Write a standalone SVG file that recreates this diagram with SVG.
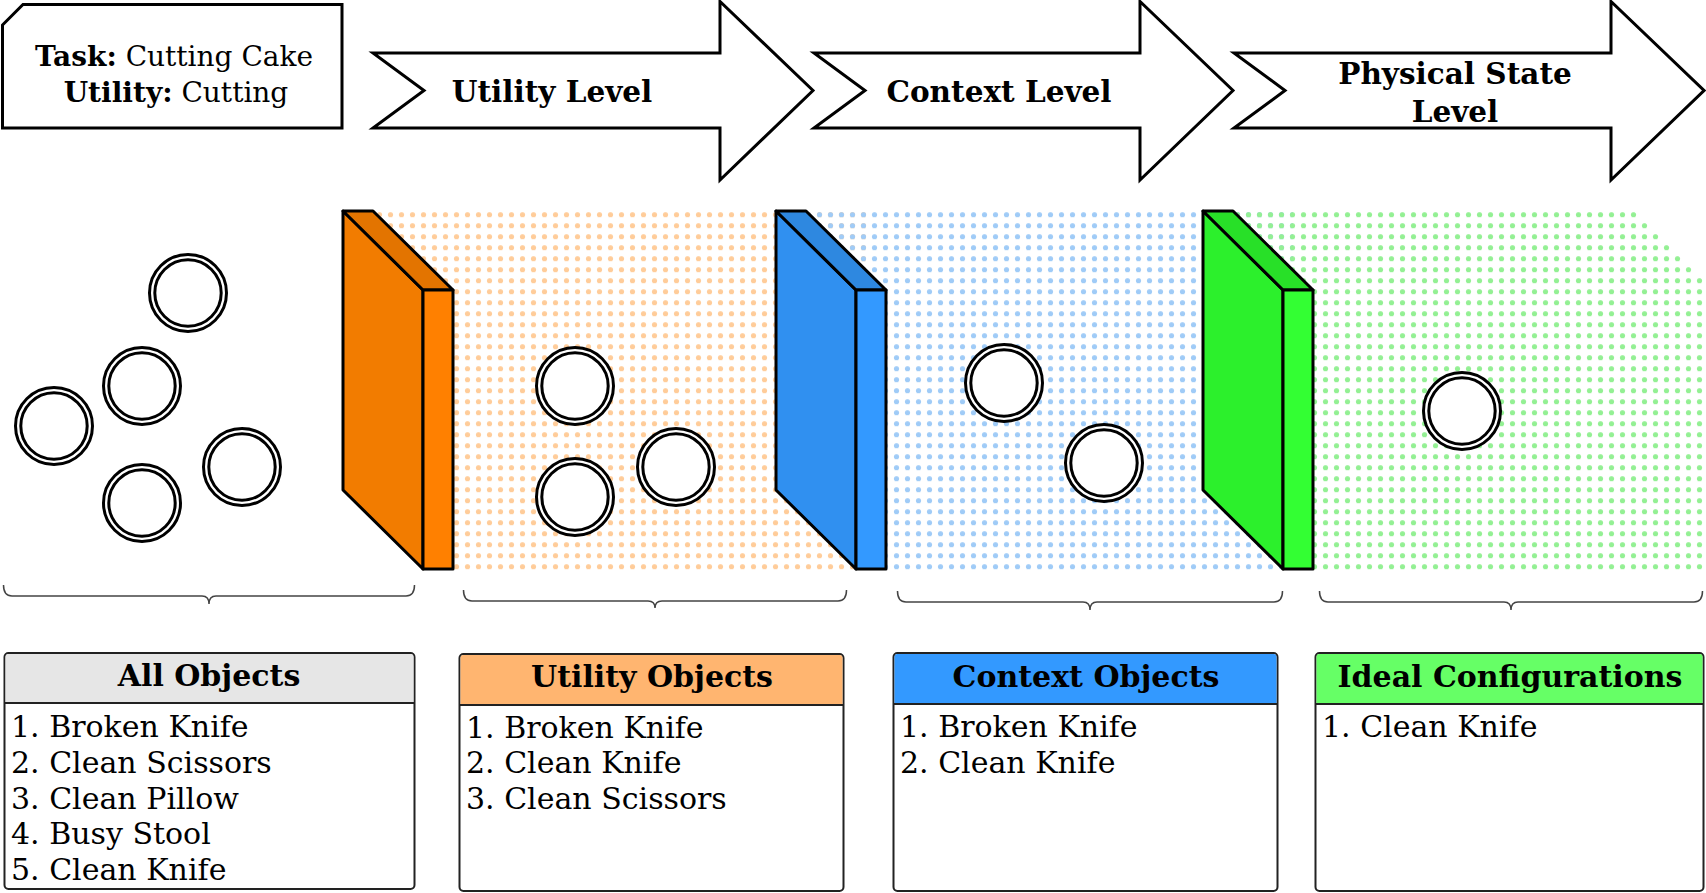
<svg xmlns="http://www.w3.org/2000/svg" width="1706" height="893" viewBox="0 0 1706 893">
<style>
.t{font-family:'DejaVu Serif','Liberation Serif',serif;fill:#000}
.b{font-weight:bold}
.lbl{font-size:29.5px;font-weight:bold;text-anchor:middle}
.hd{font-size:30px;font-weight:bold;text-anchor:middle}
.it{font-size:30px}
.arrow{fill:#fff;stroke:#000;stroke-width:3;stroke-linejoin:miter}
.ring{fill:#fff;stroke:#000;stroke-width:3}
.ed{stroke:#000;stroke-width:3;stroke-linejoin:round}
.brace{fill:none;stroke:#444;stroke-width:1.5}
.tbl{fill:#fff;stroke:#222;stroke-width:2}
.sep{stroke:#222;stroke-width:2}
</style>
<defs>
<pattern id="dotO" x="385" y="209.2" width="11" height="11" patternUnits="userSpaceOnUse"><circle cx="5.5" cy="5.5" r="2.6" fill="#ffcc99"/></pattern>
<pattern id="dotB" x="385" y="209.2" width="11" height="11" patternUnits="userSpaceOnUse"><circle cx="5.5" cy="5.5" r="2.6" fill="#9fcbf7"/></pattern>
<pattern id="dotG" x="385" y="209.2" width="11" height="11" patternUnits="userSpaceOnUse"><circle cx="5.5" cy="5.5" r="2.6" fill="#93f093"/></pattern>
<g id="obj"><circle class="ring" r="38.5"/><circle class="ring" r="33.2"/></g>
</defs>
<rect width="1706" height="893" fill="#fff"/>

<g id="backgrounds">
<polygon fill="url(#dotO)" points="373,209 866,209 866,571 453,571 453,290"/>
<polygon fill="url(#dotB)" points="806,209 1293,209 1293,571 886,571 886,290"/>
<polygon fill="url(#dotG)" points="1233,209 1632,209 1706,283 1706,571 1313,571 1313,290"/>
</g>

<g id="task">
<polygon points="2.5,25 23,4.5 342,4.5 342,128 2.5,128" fill="#fff" stroke="#000" stroke-width="3"/>
<text class="t" x="174" y="66" font-size="28" text-anchor="middle"><tspan class="b">Task:</tspan> Cutting Cake</text>
<text class="t" x="176" y="102" font-size="28" text-anchor="middle"><tspan class="b">Utility:</tspan> Cutting</text>
</g>

<g id="arrow-utility">
<polygon class="arrow" points="373,53 720,53 720,1.5 813,90.5 720,180 720,128 373,128 424,90.5"/>
<text class="t lbl" x="552" y="102">Utility Level</text>
</g>
<g id="arrow-context">
<polygon class="arrow" points="814,53 1140,53 1140,1.5 1233,90.5 1140,180 1140,128 814,128 865,90.5"/>
<text class="t lbl" x="999" y="102">Context Level</text>
</g>
<g id="arrow-physical">
<polygon class="arrow" points="1234,53 1611,53 1611,1.5 1704,90.5 1611,180 1611,128 1234,128 1285,90.5"/>
<text class="t lbl" x="1455" y="84">Physical State</text>
<text class="t lbl" x="1455" y="122">Level</text>
</g>

<g id="filter-utility">
<polygon class="ed" fill="#f27c00" points="343,211 423,290 423,569 343,490"/>
<polygon class="ed" fill="#e37400" points="343,211 373,211 453,290 423,290"/>
<rect class="ed" fill="#ff8000" x="423" y="290" width="30" height="279"/>
</g>
<g id="filter-context">
<polygon class="ed" fill="#3090f0" points="776,211 856,290 856,569 776,490"/>
<polygon class="ed" fill="#2e88e0" points="776,211 806,211 886,290 856,290"/>
<rect class="ed" fill="#3399ff" x="856" y="290" width="30" height="279"/>
</g>
<g id="filter-physical">
<polygon class="ed" fill="#2cf02c" points="1203,211 1283,290 1283,569 1203,490"/>
<polygon class="ed" fill="#28e028" points="1203,211 1233,211 1313,290 1283,290"/>
<rect class="ed" fill="#33ff33" x="1283" y="290" width="30" height="279"/>
</g>

<g id="all-objects-items">
<use href="#obj" x="188" y="293"/>
<use href="#obj" x="142" y="386"/>
<use href="#obj" x="54" y="426"/>
<use href="#obj" x="242" y="467"/>
<use href="#obj" x="142" y="503"/>
</g>
<g id="utility-objects-items">
<use href="#obj" x="575" y="386"/>
<use href="#obj" x="575" y="497"/>
<use href="#obj" x="676" y="467"/>
</g>
<g id="context-objects-items">
<use href="#obj" x="1004" y="383"/>
<use href="#obj" x="1104" y="463"/>
</g>
<g id="ideal-items">
<use href="#obj" x="1462" y="411"/>
</g>

<g id="braces">
<path class="brace" d="M3.5,585 Q3.5,596 12,596 L202,596 Q209,596 209,604 Q209,596 216,596 L406,596 Q414.5,596 414.5,585"/>
<path class="brace" d="M463.5,590 Q463.5,601 472,601 L648,601 Q655,601 655,608 Q655,601 662,601 L838,601 Q846.5,601 846.5,590"/>
<path class="brace" d="M897.5,591 Q897.5,602 906,602 L1083,602 Q1090,602 1090,610 Q1090,602 1097,602 L1274,602 Q1282.5,602 1282.5,591"/>
<path class="brace" d="M1319.5,591 Q1319.5,602 1328,602 L1504,602 Q1511,602 1511,610 Q1511,602 1518,602 L1694,602 Q1702.5,602 1702.5,591"/>
</g>

<g id="table-all">
<rect class="tbl" x="4.5" y="653" width="410" height="236" rx="4"/>
<path d="M5.5,703 V657 Q5.5,654 8.5,654 H410.5 Q413.5,654 413.5,657 V703 Z" fill="#e6e6e6"/>
<line class="sep" x1="4.5" y1="703" x2="414.5" y2="703"/>
<text class="t hd" x="209" y="686">All Objects</text>
<text class="t it" x="11" y="737">1. Broken Knife</text>
<text class="t it" x="11" y="773">2. Clean Scissors</text>
<text class="t it" x="11" y="809">3. Clean Pillow</text>
<text class="t it" x="11" y="844">4. Busy Stool</text>
<text class="t it" x="11" y="880">5. Clean Knife</text>
</g>
<g id="table-utility">
<rect class="tbl" x="459.5" y="654" width="384" height="237" rx="4"/>
<path d="M460.5,705 V658 Q460.5,655 463.5,655 H839.5 Q842.5,655 842.5,658 V705 Z" fill="#ffb570"/>
<line class="sep" x1="459.5" y1="705" x2="843.5" y2="705"/>
<text class="t hd" x="652" y="687">Utility Objects</text>
<text class="t it" x="466" y="738">1. Broken Knife</text>
<text class="t it" x="466" y="773">2. Clean Knife</text>
<text class="t it" x="466" y="809">3. Clean Scissors</text>
</g>
<g id="table-context">
<rect class="tbl" x="893.5" y="653" width="384" height="238" rx="4"/>
<path d="M894.5,704 V657 Q894.5,654 897.5,654 H1273.5 Q1276.5,654 1276.5,657 V704 Z" fill="#3399ff"/>
<line class="sep" x1="893.5" y1="704" x2="1277.5" y2="704"/>
<text class="t hd" x="1086" y="687">Context Objects</text>
<text class="t it" x="900" y="737">1. Broken Knife</text>
<text class="t it" x="900" y="773">2. Clean Knife</text>
</g>
<g id="table-ideal">
<rect class="tbl" x="1315.5" y="653" width="388" height="238" rx="4"/>
<path d="M1316.5,704 V657 Q1316.5,654 1319.5,654 H1699.5 Q1702.5,654 1702.5,657 V704 Z" fill="#66ff66"/>
<line class="sep" x1="1315.5" y1="704" x2="1703.5" y2="704"/>
<text class="t hd" x="1510" y="687">Ideal Configurations</text>
<text class="t it" x="1322" y="737">1. Clean Knife</text>
</g>
</svg>
